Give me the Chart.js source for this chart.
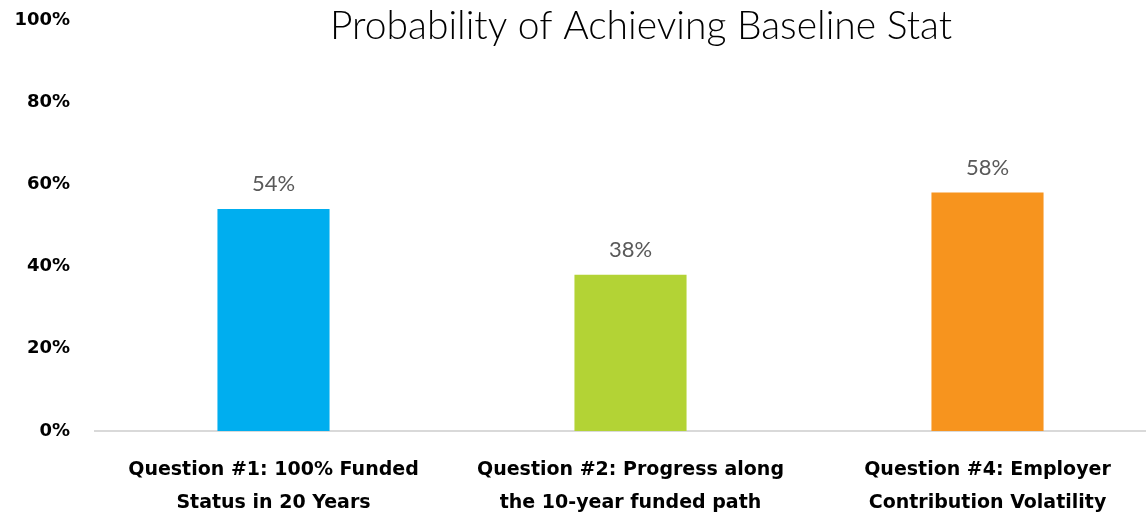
<!DOCTYPE html>
<html lang="en">
<head>
    <meta charset="UTF-8">
    <title>Probability of Achieving Baseline Stat</title>
    <script src="https://cdn.jsdelivr.net/npm/chart.js"></script>
    <style>
        html, body { margin: 0; padding: 0; background: #fff; overflow: hidden; }
        #wrap { position: relative; width: 1166px; height: 516px; }
    </style>
</head>
<body>
    <div id="wrap"><canvas id="probChart"></canvas></div>
    <script>
        const questions = [
            ['Question #1: 100% Funded', 'Status in 20 Years'],
            ['Question #2: Progress along', 'the 10-year funded path'],
            ['Question #4: Employer', 'Contribution Volatility']
        ];
        const probabilities = [54, 38, 58];
        const barColors = ['#00AEEF', '#B3D335', '#F7941E'];
        const yTicks = [0, 20, 40, 60, 80, 100];
        const chartTitle = 'Probability of Achieving Baseline Stat';

        // title sits a bit right of the canvas middle, drawn by hand
        const titlePlugin = {
            id: 'titleText',
            afterDraw(chart) {
                const ctx = chart.ctx;
                ctx.save();
                ctx.font = '300 39px Lato';
                ctx.fillStyle = '#000';
                ctx.textAlign = 'center';
                ctx.textBaseline = 'middle';
                ctx.fillText(chartTitle, 641, 26);
                ctx.restore();
            }
        };

        // value labels above each bar
        const valueLabels = {
            id: 'valueLabels',
            afterDatasetsDraw(chart) {
                const ctx = chart.ctx;
                const meta = chart.getDatasetMeta(0);
                ctx.save();
                ctx.font = '22px Lato';
                ctx.fillStyle = '#595959';
                ctx.textAlign = 'center';
                ctx.textBaseline = 'middle';
                meta.data.forEach((bar, i) => {
                    ctx.fillText(probabilities[i] + '%', bar.x, bar.y - 25);
                });
                ctx.restore();
            }
        };

        new Chart(document.getElementById('probChart'), {
            type: 'bar',
            data: {
                labels: questions,
                datasets: [{
                    data: probabilities,
                    backgroundColor: barColors,
                    borderWidth: 0,
                    barPercentage: 1,
                    categoryPercentage: 0.314
                }]
            },
            options: {
                responsive: true,
                maintainAspectRatio: false,
                animation: false,
                layout: { padding: { top: 20, left: 0, right: 0, bottom: 0 } },
                plugins: {
                    legend: { display: false },
                    title: { display: false },
                    tooltip: { enabled: false }
                },
                scales: {
                    x: {
                        grid: { display: false, drawTicks: false },
                        border: { color: '#d9d9d9', width: 2 },
                        ticks: {
                            color: '#000',
                            padding: 23,
                            maxRotation: 0,
                            autoSkip: false,
                            font: { family: 'DejaVu Sans', weight: 'bold', size: 19, lineHeight: 1.72 }
                        },
                        afterFit(scale) { scale.height = 85; }
                    },
                    y: {
                        min: 0,
                        max: 100,
                        afterBuildTicks(scale) {
                            scale.ticks = yTicks.map(v => ({ value: v }));
                        },
                        grid: { display: false, drawTicks: false },
                        border: { display: false },
                        ticks: {
                            color: '#000',
                            padding: 25,
                            font: { family: 'DejaVu Sans', weight: 'bold', size: 18 },
                            callback: v => v + '%'
                        },
                        afterFit(scale) {
                            scale.width = 95;
                            scale.paddingTop = 0;
                            scale.paddingBottom = 0;
                        }
                    }
                }
            },
            plugins: [titlePlugin, valueLabels]
        });
    </script>
</body>
</html>
